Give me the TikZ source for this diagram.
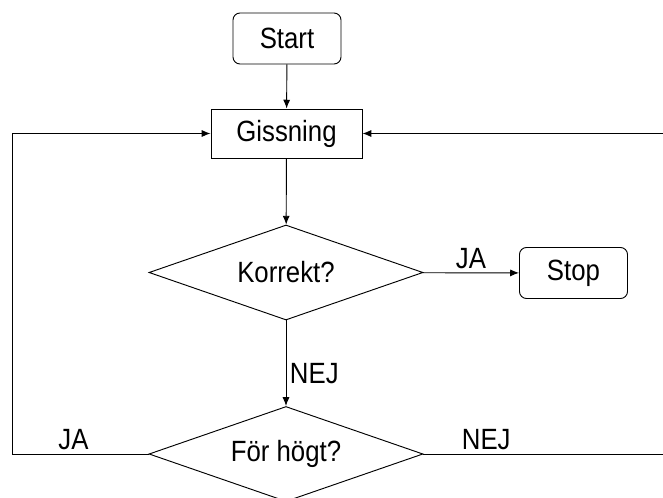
\documentclass[tikz,border=0pt]{standalone}
\usepackage{fontspec}
\setmainfont[FakeStretch=0.88]{Liberation Sans}
\usetikzlibrary{shapes.geometric,arrows.meta}

\begin{document}
\begin{tikzpicture}[x=0.03cm, y=-0.03cm, font=\fontsize{25}{28}\selectfont,
        nodes={draw, line width=0.8pt, inner sep=0},
        term/.style={rounded corners=6pt, minimum width=3.24cm, minimum height=1.53cm},
        proc/.style={minimum width=4.53cm, minimum height=1.47cm},
        cond/.style={diamond, aspect=2.9, minimum width=8.22cm, minimum height=2.85cm},
        lbl/.style={draw=none, inner sep=3pt},
        flow/.style={line width=0.8pt, -{Latex[length=7.5pt,width=6pt]}}]
                \useasboundingbox (0,0) rectangle (663,497);

                \node (start) [term] at (287,38.5) {Start};
                \node (gissning) [proc] at (286.5,133.5) {Gissning};
                \node (korrekt) [cond] at (286,272.5) {Korrekt?};
                \node (stop) [term] at (573.5,273) {Stop};
                \node (hogt) [cond] at (286,454) {För högt?};

                \coordinate (ja_ned) at (12,454);
                \coordinate (ja_upp) at (12,133.5);
                \coordinate (nej_ned) at (665,454);
                \coordinate (nej_upp) at (665,133.5);

                \draw [flow] (start) -- (gissning);
                \draw [flow] (gissning) -- (korrekt);
                \draw [flow] (korrekt) -- node [lbl, above] {JA} (stop);
                \draw [flow] (korrekt) -- node [lbl, right, pos=0.62] {NEJ} (hogt);

                \draw [flow] (hogt.west) -- node [lbl, above, pos=0.55] {JA} (ja_ned)
                        -- (ja_upp) -- (gissning.west);
                \draw [flow] (hogt.east) -- node [lbl, above, pos=0.26] {NEJ} (nej_ned)
                        -- (nej_upp) -- (gissning.east);
            \end{tikzpicture}
\end{document}
